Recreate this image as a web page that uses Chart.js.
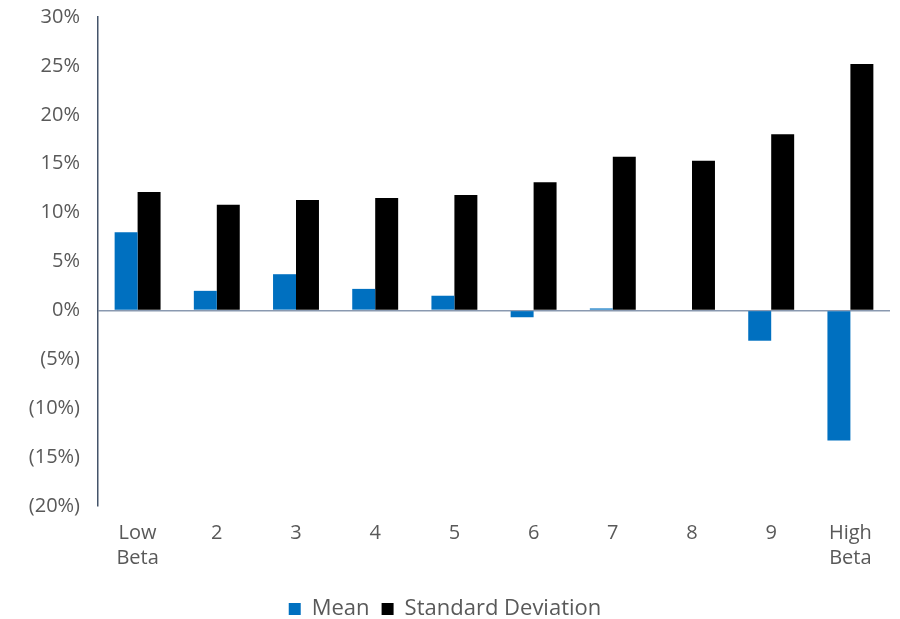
<!DOCTYPE html>
<html>
<head>
<meta charset="utf-8">
<script src="https://cdn.jsdelivr.net/npm/chart.js@4/dist/chart.umd.min.js"></script>
<style>
  html, body { margin: 0; padding: 0; background: #ffffff; }
  #wrap { width: 900px; height: 619px; }
</style>
</head>
<body>
<div id="wrap"><canvas id="chart" width="900" height="619"></canvas></div>
<script>
// Beta deciles, lowest to highest
const categories = [["Low", "Beta"], "2", "3", "4", "5", "6", "7", "8", "9", ["High", "Beta"]];
// Annualised returns (%) per decile
const meanValues = [8.0, 2.0, 3.7, 2.2, 1.5, -0.7, 0.2, 0.0, -3.1, -13.3];
const stdDevValues = [12.1, 10.8, 11.3, 11.5, 11.8, 13.1, 15.7, 15.3, 18.0, 25.2];
const seriesNames = ["Mean", "Standard Deviation"];
const yTicks = { min: -20, max: 30, step: 5 };

const textColor = "#595959";
const fontFamily = "'Open Sans', 'Noto Sans', sans-serif";

function pctLabel(v) {
  return v < 0 ? "(" + Math.abs(v) + "%)" : v + "%";
}

new Chart(document.getElementById("chart"), {
  type: "bar",
  data: {
    labels: categories,
    datasets: [
      { label: seriesNames[0], data: meanValues, backgroundColor: "#0070c0", borderWidth: 0 },
      { label: seriesNames[1], data: stdDevValues, backgroundColor: "#000000", borderWidth: 0 }
    ]
  },
  options: {
    responsive: false,
    animation: false,
    devicePixelRatio: 1,
    layout: { padding: { top: 0, right: 10, left: 0, bottom: -11 } },
    datasets: { bar: { barPercentage: 1.0, categoryPercentage: 0.58 } },
    plugins: {
      tooltip: { enabled: false },
      legend: {
        position: "bottom",
        labels: {
          color: textColor,
          font: { family: fontFamily, size: 22 },
          boxWidth: 12,
          boxHeight: 12,
          padding: 12
        }
      }
    },
    scales: {
      x: {
        grid: { display: false },
        border: { display: false },
        afterFit: (s) => { s.height = 80; },
        ticks: { color: textColor, font: { family: fontFamily, size: 20, lineHeight: 1.25 }, maxRotation: 0, padding: 7 }
      },
      y: {
        min: yTicks.min,
        max: yTicks.max,
        afterFit: (s) => { s.width = 98; s.paddingTop = 17; s.paddingBottom = 10; },
        ticks: {
          stepSize: yTicks.step,
          color: textColor,
          font: { family: fontFamily, size: 20, lineHeight: 1.0 },
          padding: 18,
          callback: (v) => pctLabel(v)
        },
        grid: {
          drawTicks: false,
          lineWidth: 1.5,
          color: (ctx) => (ctx.tick && ctx.tick.value === 0 ? "#8a99b0" : "rgba(0,0,0,0)")
        },
        border: { display: true, color: "#44546a", width: 1.5 }
      }
    }
  }
});
</script>
</body>
</html>
